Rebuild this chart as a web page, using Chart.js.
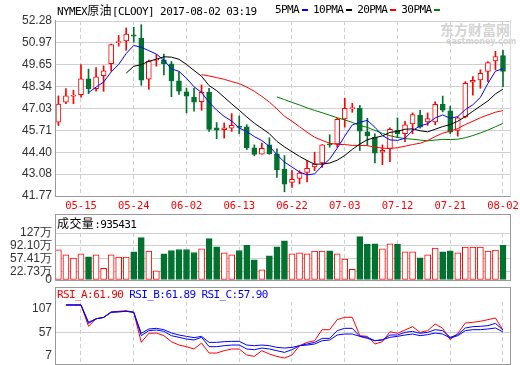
<!DOCTYPE html>
<html>
<head>
<meta charset="utf-8">
<script src="https://cdn.jsdelivr.net/npm/chart.js@4.4.1/dist/chart.umd.min.js"></script>
<style>
  body { margin: 0; background: #fff; width: 520px; height: 365px; overflow: hidden; position: relative; }
  canvas { position: absolute; left: 0; }
  .txt { position: absolute; white-space: nowrap; font: 11px "DejaVu Sans Mono", "Noto Sans CJK SC", monospace; letter-spacing: -0.6px; line-height: 14px; color: #000; }
  .cjk { font-family: "Noto Sans CJK SC"; font-size: 12px; letter-spacing: 0.4px; }
  .box { position: absolute; box-sizing: border-box; border: 1px solid #999; pointer-events: none; }
  .dash { display: inline-block; width: 6px; height: 2px; vertical-align: middle; margin: 0 5px 0 3px; }
  .wm { position: absolute; color: #d4d4d4; font-family: "Noto Sans CJK SC"; font-weight: bold; white-space: nowrap; }
</style>
</head>
<body>

<div class="wm" style="left:440px;top:21px;font-size:14px;line-height:16px">东方财富网</div>
<div class="wm" style="left:446px;top:37px;font-size:8px;line-height:9px;font-family:'DejaVu Sans'">eastmoney.com</div>

<canvas id="main" width="520" height="214" style="top:0"></canvas>
<canvas id="vol" width="520" height="73" style="top:214px"></canvas>
<canvas id="rsi" width="520" height="78" style="top:287px"></canvas>

<div class="txt" style="left:57px;top:3px">NYMEX<span class="cjk">原油</span>[CLOOY] 2017-08-02 03:19</div>
<div class="txt" id="legend" style="left:275px;top:3px"></div>

<div class="box" style="left:55px;top:20px;width:456px;height:177px;border-top:none;border-right-color:#ddd"></div>
<div class="box" style="left:55px;top:214px;width:456px;height:67px"></div>
<div class="txt" style="left:57px;top:216px"><span class="cjk">成交量</span>:935431</div>
<div class="box" style="left:55px;top:287px;width:456px;height:78px"></div>
<div class="txt" id="rsiHead" style="left:57px;top:288px"></div>

<script>
// ===== DATA =====
const dates = ['05-10','05-11','05-12','05-15','05-16','05-17','05-18','05-19','05-22','05-23',
  '05-24','05-25','05-26','05-29','05-30','05-31','06-01','06-02','06-05','06-06',
  '06-07','06-08','06-09','06-12','06-13','06-14','06-15','06-16','06-19','06-20',
  '06-21','06-22','06-23','06-26','06-27','06-28','06-29','06-30','07-03','07-04',
  '07-05','07-06','07-07','07-10','07-11','07-12','07-13','07-14','07-17','07-18',
  '07-19','07-20','07-21','07-24','07-25','07-26','07-27','07-28','08-01','08-02'];
const dateTicks = ['05-15','05-24','06-02','06-13','06-22','07-03','07-12','07-21','08-02'];

const opens = [46.20,47.41,47.76,47.86,48.81,48.22,48.99,49.71,50.97,51.09,
  51.45,51.25,48.79,49.93,49.95,49.71,48.68,48.03,47.69,47.43,
  47.99,45.87,45.75,45.85,45.97,45.93,44.66,44.28,44.84,44.30,
  43.39,42.58,42.83,43.19,43.51,43.75,44.90,44.90,46.40,47.02,
  47.04,45.63,45.31,44.40,44.60,45.71,45.51,46.10,46.62,46.22,
  46.22,47.27,46.88,45.71,46.52,48.60,48.74,49.25,49.89,50.21];
const highs = [47.78,48.22,48.12,49.67,49.39,49.49,49.59,50.90,51.41,51.86,
  51.90,52.06,49.94,50.26,50.29,49.85,49.21,48.24,48.24,48.44,
  48.24,46.18,46.16,46.72,46.58,46.05,44.84,44.95,45.27,44.60,
  44.20,43.29,43.29,43.90,44.40,44.86,45.45,46.44,47.65,47.34,
  47.21,46.44,45.51,44.84,45.87,46.46,46.26,46.76,46.92,46.76,
  47.43,47.77,47.17,46.52,48.64,48.94,49.35,49.85,50.46,50.52];
const lows = [46.00,47.31,47.31,47.71,47.92,48.06,48.06,49.27,50.77,50.52,
  51.01,48.42,48.18,49.57,49.04,47.73,47.87,46.76,46.86,46.92,
  45.65,45.21,45.25,45.65,45.51,44.56,44.18,44.28,44.28,42.89,
  42.02,42.28,42.50,42.62,43.29,43.49,44.70,44.70,45.91,46.80,
  44.50,44.80,43.75,43.65,43.83,45.27,45.03,45.51,45.85,46.01,
  46.05,46.82,45.51,45.37,46.46,47.83,48.24,48.64,49.35,48.34];
const closes = [47.29,47.78,47.80,48.81,48.22,48.93,49.29,50.87,51.05,51.49,
  51.37,48.73,49.88,49.98,49.71,48.68,48.07,47.77,47.41,47.99,
  45.77,45.73,45.87,46.01,45.89,44.68,44.26,44.64,44.30,43.35,
  42.48,42.77,43.15,43.43,43.69,44.84,44.84,46.38,47.04,47.08,
  45.67,45.39,44.34,44.52,45.77,45.51,46.05,46.66,45.91,46.42,
  47.27,46.92,45.61,46.46,48.54,48.72,49.14,49.79,50.15,49.25];

// moving averages (each series ends on the last day)
const ma5 = [47.98,48.31,48.61,49.22,49.67,50.33,50.81,50.70,50.50,50.29,
  49.93,49.40,49.26,48.84,48.33,47.98,47.40,46.93,46.55,46.27,
  45.85,45.64,45.34,45.10,44.75,44.25,43.81,43.51,43.21,43.04,
  43.10,43.58,43.99,44.64,45.36,46.04,46.20,46.31,45.90,45.40,
  45.14,45.11,45.24,45.70,45.98,46.11,46.46,46.64,46.43,46.54,
  46.96,47.25,47.69,48.53,49.27,49.41];
const ma10 = [49.15,49.56,49.66,49.86,49.98,50.13,50.11,49.98,49.67,49.31,
  48.96,48.40,48.10,47.70,47.30,46.92,46.52,46.14,45.83,45.51,
  45.05,44.72,44.43,44.15,43.90,43.68,43.69,43.75,43.92,44.20,
  44.57,44.89,45.15,45.27,45.38,45.59,45.65,45.78,45.80,45.69,
  45.62,45.78,45.94,46.06,46.26,46.54,46.86,47.17,47.48,47.90,48.19];
const ma20 = [49.06,48.98,48.88,48.78,48.64,48.52,48.31,48.06,47.75,47.41,
  47.00,46.56,46.26,45.93,45.60,45.30,45.11,44.94,44.87,44.86,
  44.81,44.81,44.79,44.71,44.64,44.63,44.67,44.76,44.86,44.94,
  45.10,45.34,45.54,45.67,45.82,46.06,46.26,46.47,46.64,46.80,46.90];
const ma30 = [47.72,47.56,47.39,47.24,47.06,46.91,46.77,46.62,46.47,46.34,
  46.19,46.00,45.89,45.71,45.53,45.39,45.29,45.22,45.18,45.13,
  45.08,45.13,45.17,45.16,45.18,45.27,45.40,45.56,45.73,45.93,46.13];
const maNames = ['5PMA','10PMA','20PMA','30PMA'];
const priceTicks = [41.77,43.08,44.40,45.71,47.03,48.34,49.65,50.97,52.28];

// volume in 万
const volumes = [81.6,68.0,59.0,70.7,62.6,68.0,31.7,68.0,61.7,61.7,
  76.2,114.3,78.0,24.5,70.7,79.8,82.5,82.5,74.4,84.4,
  111.6,89.8,73.5,68.0,79.8,93.4,54.4,27.2,65.3,89.8,
  106.1,70.7,73.5,70.7,78.0,78.0,78.9,70.7,56.2,29.0,
  117.0,96.1,98.0,84.4,98.0,96.1,76.2,76.2,59.9,68.0,
  86.2,76.2,78.9,73.5,88.9,88.9,88.9,78.0,80.7,93.5];
const volTicks = [0, 22.73, 57.41, 92.10, 127];
const volTickLabels = ['0','22.73万','57.41万','92.10万','127万'];

// RSI lines (start on the 2nd day)
const rsiA = [115.6,115.6,115.6,69.9,86.0,89.0,101.0,102.0,103.5,100.0,
  35.5,54.9,55.6,49.9,37.0,29.8,26.3,21.3,34.1,12.7,
  12.7,17.7,21.3,21.3,8.4,5.5,17.7,10.5,5.5,1.9,
  8.4,28.4,35.5,39.1,62.7,62.7,84.2,89.2,89.2,49.9,
  48.4,32.0,37.0,58.4,54.9,62.0,69.2,57.0,60.6,74.9,
  65.6,41.3,54.9,77.0,78.5,80.6,84.2,87.7,61.90];
const rsiB = [115.6,115.6,115.6,76.3,86.0,89.0,100.0,101.0,102.0,100.0,
  49.9,60.6,62.0,59.1,49.9,46.3,42.7,40.6,46.3,26.3,
  26.3,28.4,29.8,29.8,21.3,19.8,23.4,21.3,17.7,14.1,
  19.8,28.4,32.0,35.5,44.1,44.1,60.6,65.6,65.6,48.4,
  46.3,39.1,40.6,51.3,51.3,57.0,59.1,54.9,57.0,62.7,
  60.6,46.3,52.0,66.3,69.2,69.9,71.3,76.3,61.89];
const rsiC = [115.6,115.6,115.6,78.5,86.0,89.0,100.0,101.0,102.0,100.0,
  54.9,64.2,65.6,62.7,55.6,51.3,48.4,45.6,48.4,35.5,
  35.5,37.0,37.7,37.7,29.8,28.4,29.8,28.4,24.8,23.4,
  24.8,28.4,29.8,32.0,39.1,40.6,51.3,53.4,53.4,48.4,
  44.1,39.1,41.3,46.3,48.4,51.3,53.4,49.9,52.0,55.6,
  53.4,44.8,49.9,60.6,62.7,62.7,64.2,66.3,57.90];
const rsiNames = ['RSI_A','RSI_B','RSI_C'];
const rsiTicks = [7, 57, 107];

// ===== STYLE =====
const RED = '#ff0000';
const GREEN = '#00722f';
const BLUE = '#0000ff';
const GRID = '#cfcfcf';
const maColors = [BLUE, '#000000', RED, '#008000'];
const rsiColors = [RED, BLUE, BLUE];
const X_MIN = -0.45, X_MAX = 59.93;

const n = closes.length;
const isUp = closes.map((c, i) => c >= opens[i]);
const tickIdx = dateTicks.map(d => dates.indexOf(d));

// series ending on the last day -> {x, y}
function toPoints(arr) {
  const start = n - arr.length;
  return arr.map((v, k) => ({ x: start + k, y: v }));
}

function xScale(showLabels) {
  return {
    type: 'linear', min: X_MIN, max: X_MAX, offset: false,
    afterBuildTicks: s => { s.ticks = tickIdx.map(v => ({ value: v })); },
    afterFit: s => { s.height = showLabels ? 18 : 0; s.paddingLeft = 0; s.paddingRight = 0; },
    ticks: {
      display: showLabels, color: RED, padding: 4, maxRotation: 0, autoSkip: false,
      font: { family: 'DejaVu Sans Mono', size: 10.5 },
      callback: v => dates[v]
    },
    grid: { color: GRID, drawTicks: false, offset: false },
    border: { display: false, dash: [4, 3] }
  };
}

function yScale(min, max, ticks, fmt, gridColor) {
  return {
    min: min, max: max,
    afterBuildTicks: s => { s.ticks = ticks.map(v => ({ value: v })); },
    afterFit: s => { s.width = 55; s.paddingTop = 0; s.paddingBottom = 0; },
    ticks: { color: '#333', padding: 3, autoSkip: false, font: { family: 'Liberation Sans', size: 12 }, callback: fmt },
    grid: { color: gridColor || GRID, drawTicks: false },
    border: { display: false }
  };
}

const baseOpts = {
  responsive: false,
  animation: false,
  events: [],
  plugins: { legend: { display: false }, tooltip: { enabled: false } }
};

// ===== HEADER / LEGEND =====
const legendEl = document.getElementById('legend');
maNames.forEach((name, i) => {
  legendEl.innerHTML += name + '<span class="dash" style="background:' + maColors[i] + '"></span>';
});
const rsiLast = [rsiA, rsiB, rsiC].map(a => a[a.length - 1].toFixed(2));
document.getElementById('rsiHead').innerHTML = rsiNames.map((name, i) =>
  '<span style="color:' + rsiColors[i] + ';margin-right:6px">' + name + ':' + rsiLast[i] + '</span>').join('');

// ===== MAIN (CANDLES + MA) =====
const maDatasets = [ma5, ma10, ma20, ma30].map((arr, i) => ({
  type: 'line', data: toPoints(arr), borderColor: maColors[i], borderWidth: 1,
  pointRadius: 0, tension: 0, order: 1
}));

new Chart(document.getElementById('main'), {
  data: {
    datasets: [
      ...maDatasets,
      {
        type: 'bar', order: 2, grouped: false,
        data: closes.map((c, i) => ({ x: i, y: [opens[i], c] })),
        backgroundColor: isUp.map(u => u ? '#ffffff' : GREEN),
        borderColor: isUp.map(u => u ? RED : GREEN),
        borderWidth: 1, borderSkipped: false, barThickness: 5, minBarLength: 1
      },
      {
        type: 'bar', order: 3, grouped: false,
        data: closes.map((c, i) => ({ x: i, y: [lows[i], highs[i]] })),
        backgroundColor: isUp.map(u => u ? RED : GREEN),
        borderWidth: 0, barThickness: 1
      }
    ]
  },
  options: {
    ...baseOpts,
    layout: { padding: { top: 21, right: 10, left: 0, bottom: 0 } },
    scales: {
      x: xScale(true),
      y: yScale(priceTicks[0], priceTicks[priceTicks.length - 1], priceTicks, v => v.toFixed(2))
    }
  }
});

// ===== VOLUME =====
new Chart(document.getElementById('vol'), {
  type: 'bar',
  data: {
    datasets: [{
      data: volumes.map((v, i) => ({ x: i, y: v })),
      backgroundColor: isUp.map(u => u ? '#ffffff' : GREEN),
      borderColor: isUp.map(u => u ? RED : GREEN),
      borderWidth: 1, borderSkipped: false, barThickness: 6, grouped: false
    }]
  },
  options: {
    ...baseOpts,
    layout: { padding: { top: 19, right: 10, left: 0, bottom: 7 } },
    scales: {
      x: xScale(false),
      y: yScale(0, volTicks[volTicks.length - 1], volTicks, v => volTickLabels[volTicks.indexOf(v)])
    }
  }
});

// ===== RSI =====
new Chart(document.getElementById('rsi'), {
  type: 'line',
  data: {
    datasets: [rsiC, rsiB, rsiA].map((arr, k) => ({
      data: toPoints(arr), borderColor: [BLUE, BLUE, RED][k], borderWidth: 1,
      pointRadius: 0, tension: 0
    }))
  },
  options: {
    ...baseOpts,
    layout: { padding: { top: 15, right: 10, left: 0, bottom: 1 } },
    scales: {
      x: xScale(false),
      y: yScale(-10.8, 122, rsiTicks, v => String(v),
        c => (c.tick && c.tick.value === 57) ? GRID : 'rgba(0,0,0,0)')
    }
  }
});
</script>
</body>
</html>
